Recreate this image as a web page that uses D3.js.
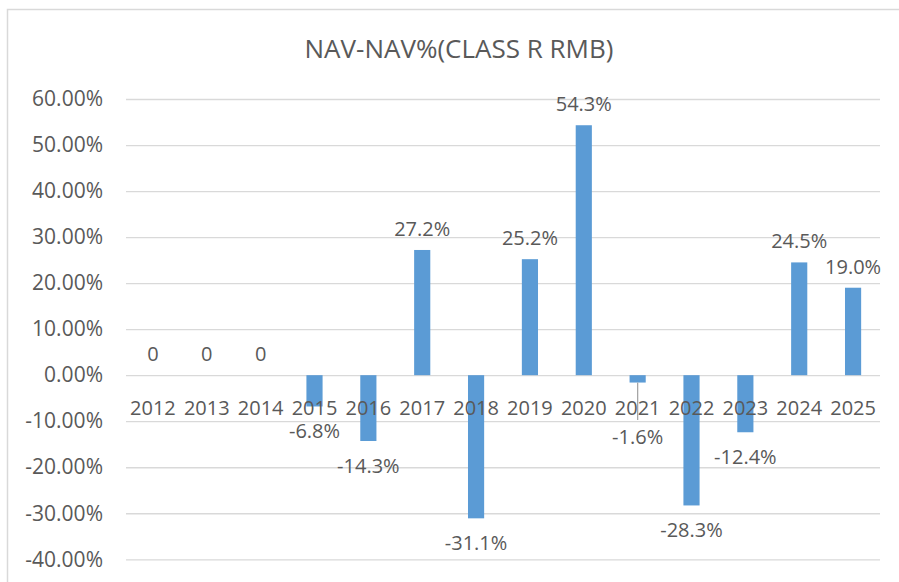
<!DOCTYPE html>
<html>
<head>
<meta charset="utf-8">
<script src="https://cdn.jsdelivr.net/npm/d3@7"></script>
<style>
    body { margin: 0; background: #fff; }
    #chart-area { width: 899px; height: 582px; }
    text { font-family: "Open Sans", "Noto Sans", sans-serif; fill: #595959; }
</style>
</head>
<body>
<div id="chart-area"></div>
<script>

// chart data
let years = ["2012", "2013", "2014", "2015", "2016", "2017", "2018", "2019", "2020", "2021", "2022", "2023", "2024", "2025"];
let navPct = [0, 0, 0, -6.8, -14.3, 27.2, -31.1, 25.2, 54.3, -1.6, -28.3, -12.4, 24.5, 19.0];
let yTicks = [-40, -30, -20, -10, 0, 10, 20, 30, 40, 50, 60];
let chartTitle = "NAV-NAV%(CLASS R RMB)";


class navBarChart {

    constructor(parentElement, years, values) {
        this.parentElement = parentElement;
        this.data = years.map((y, i) => ({year: y, value: values[i]}));

        this.initVis();
    }


    initVis() {
        let vis = this;

        vis.width = 899;
        vis.height = 582;

        // plot area (absolute pixels)
        vis.plot = {left: 126, right: 880, top: 99, bottom: 559.3};

        vis.svg = d3.select("#" + vis.parentElement).append("svg")
            .attr("width", vis.width)
            .attr("height", vis.height);

        // chart border
        vis.svg.append("rect")
            .attr("x", 7.5)
            .attr("y", 9.5)
            .attr("width", 900)
            .attr("height", 600)
            .attr("fill", "none")
            .attr("stroke", "#d9d9d9")
            .attr("stroke-width", 1.5);

        // title
        vis.svg.append("text")
            .attr("x", 459)
            .attr("y", 58)
            .attr("text-anchor", "middle")
            .style("font-size", "26px")
            .text(chartTitle);

        // scales
        vis.x = d3.scaleBand()
            .domain(years)
            .range([vis.plot.left, vis.plot.right])
            .paddingInner(0.7)
            .paddingOuter(0.35);

        vis.y = d3.scaleLinear()
            .domain([-40, 60])
            .range([vis.plot.bottom, vis.plot.top]);

        // y-axis with gridlines
        vis.yAxis = d3.axisLeft(vis.y)
            .tickValues(yTicks)
            .tickFormat(d => d.toFixed(2) + "%")
            .tickSize(-(vis.plot.right - vis.plot.left))
            .tickPadding(23);

        vis.svg.append("g")
            .attr("class", "y-axis axis")
            .attr("transform", `translate(${vis.plot.left}, 0)`)
            .call(vis.yAxis)
            .call(g => g.select(".domain").remove())
            .call(g => g.selectAll("line").attr("stroke", "#d9d9d9").attr("stroke-width", 1.3))
            .call(g => g.selectAll("text")
                .style("font-size", "21px")
                .style("font-family", null)
                .attr("fill", null));

        this.updateVis();
    }


    updateVis() {
        let vis = this;

        // bars
        vis.svg.selectAll(".bar")
            .data(vis.data)
            .enter().append("rect")
            .attr("class", "bar")
            .attr("x", d => vis.x(d.year))
            .attr("width", vis.x.bandwidth())
            .attr("y", d => vis.y(Math.max(0, d.value)))
            .attr("height", d => Math.abs(vis.y(d.value) - vis.y(0)))
            .attr("fill", "#5b9bd5");

        // category axis (drawn over bars, like the original)
        vis.xAxis = d3.axisBottom(vis.x)
            .tickSize(0)
            .tickPadding(26);

        vis.svg.append("g")
            .attr("class", "x-axis axis")
            .attr("transform", `translate(0, ${vis.y(0)})`)
            .call(vis.xAxis)
            .call(g => g.select(".domain").remove())
            .call(g => g.selectAll("text")
                .style("font-size", "20px")
                .style("font-family", null)
                .attr("fill", null));

        // leader line for the moved 2021 label
        let moved = vis.data.find(d => d.year === "2021");
        let mx = vis.x(moved.year) + vis.x.bandwidth() / 2;
        vis.svg.append("line")
            .attr("x1", mx)
            .attr("x2", mx)
            .attr("y1", vis.y(moved.value))
            .attr("y2", 420)
            .attr("stroke", "#a6a6a6")
            .attr("stroke-width", 1.3);

        // data labels
        vis.svg.selectAll(".bar-label")
            .data(vis.data)
            .enter().append("text")
            .attr("class", "bar-label")
            .attr("x", d => vis.x(d.year) + vis.x.bandwidth() / 2)
            .attr("y", d => {
                if (d.year === "2021") {
                    return 444;
                }
                return d.value >= 0 ? vis.y(d.value) - 14 : vis.y(d.value) + 32;
            })
            .attr("text-anchor", "middle")
            .style("font-size", "20px")
            .text(d => d.value === 0 ? "0" : d.value.toFixed(1) + "%");
    }

}

new navBarChart("chart-area", years, navPct);

</script>
</body>
</html>
